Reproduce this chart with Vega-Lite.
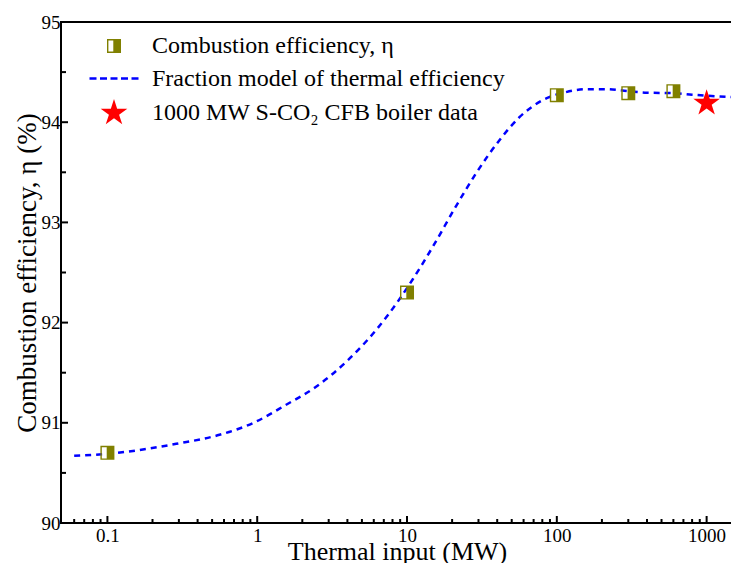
{
  "$schema": "https://vega.github.io/schema/vega-lite/v6.json",
  "width": 672,
  "height": 501,
  "autosize": {"type": "none"},
  "padding": {"left": 61, "top": 22, "right": 0, "bottom": 40},
  "background": "white",
  "config": {
    "view": {"stroke": "black", "strokeWidth": 2},
    "font": "Liberation Serif",
    "axis": {
      "grid": false,
      "domain": false,
      "ticks": false,
      "labelFont": "Liberation Serif",
      "titleFont": "Liberation Serif",
      "labelColor": "black",
      "titleColor": "black",
      "titleFontWeight": "normal",
      "labelFontSize": 19
    },
    "legend": {
      "orient": "none",
      "legendX": 41,
      "legendY": 12,
      "padding": 0,
      "labelFont": "Liberation Serif",
      "labelFontSize": 24,
      "labelColor": "black",
      "labelLimit": 0,
      "labelOffset": 26,
      "rowPadding": 8.5,
      "symbolSize": 196,
      "symbolStrokeWidth": 0,
      "symbolOpacity": 1
    }
  },
  "datasets": {
    "model": [
      {"mw": 0.06, "eff": 90.67},
      {"mw": 0.1, "eff": 90.69},
      {"mw": 0.133, "eff": 90.71},
      {"mw": 0.288, "eff": 90.79},
      {"mw": 0.56, "eff": 90.88},
      {"mw": 0.93, "eff": 90.995},
      {"mw": 1.56, "eff": 91.18},
      {"mw": 2.47, "eff": 91.36},
      {"mw": 4.0, "eff": 91.62},
      {"mw": 7.33, "eff": 92.06},
      {"mw": 10.9, "eff": 92.43},
      {"mw": 14.9, "eff": 92.76},
      {"mw": 21.2, "eff": 93.16},
      {"mw": 28.9, "eff": 93.49},
      {"mw": 41.4, "eff": 93.82},
      {"mw": 56.3, "eff": 94.05},
      {"mw": 80.5, "eff": 94.22},
      {"mw": 115, "eff": 94.30},
      {"mw": 160, "eff": 94.33},
      {"mw": 210, "eff": 94.33},
      {"mw": 300, "eff": 94.31},
      {"mw": 400, "eff": 94.295},
      {"mw": 600, "eff": 94.29},
      {"mw": 800, "eff": 94.275},
      {"mw": 1000, "eff": 94.265},
      {"mw": 1500, "eff": 94.25}
    ],
    "measured": [
      {"mw": 0.1, "eff": 90.70, "series": "Combustion efficiency, η"},
      {"mw": 10, "eff": 92.30, "series": "Combustion efficiency, η"},
      {"mw": 100, "eff": 94.27, "series": "Combustion efficiency, η"},
      {"mw": 300, "eff": 94.29, "series": "Combustion efficiency, η"},
      {"mw": 600, "eff": 94.31, "series": "Combustion efficiency, η"}
    ],
    "boiler": [
      {"mw": 1000, "eff": 94.19, "series": "1000 MW S-CO₂ CFB boiler data"}
    ],
    "xmajor": [{"mw": 0.1}, {"mw": 1}, {"mw": 10}, {"mw": 100}, {"mw": 1000}],
    "xminor": [
      {"mw": 0.06}, {"mw": 0.07}, {"mw": 0.08}, {"mw": 0.09},
      {"mw": 0.2}, {"mw": 0.3}, {"mw": 0.4}, {"mw": 0.5}, {"mw": 0.6}, {"mw": 0.7}, {"mw": 0.8}, {"mw": 0.9},
      {"mw": 2}, {"mw": 3}, {"mw": 4}, {"mw": 5}, {"mw": 6}, {"mw": 7}, {"mw": 8}, {"mw": 9},
      {"mw": 20}, {"mw": 30}, {"mw": 40}, {"mw": 50}, {"mw": 60}, {"mw": 70}, {"mw": 80}, {"mw": 90},
      {"mw": 200}, {"mw": 300}, {"mw": 400}, {"mw": 500}, {"mw": 600}, {"mw": 700}, {"mw": 800}, {"mw": 900}
    ],
    "ymajor": [{"eff": 91}, {"eff": 92}, {"eff": 93}, {"eff": 94}],
    "yminor": [{"eff": 90.5}, {"eff": 91.5}, {"eff": 92.5}, {"eff": 93.5}, {"eff": 94.5}]
  },
  "layer": [
    {
      "data": {"name": "model"},
      "mark": {"type": "line", "color": "#0000FF", "strokeWidth": 2.5, "strokeDash": [6, 5], "interpolate": "monotone"},
      "encoding": {
        "x": {
          "field": "mw", "type": "quantitative",
          "scale": {"type": "log", "domain": [0.049, 1500], "nice": false},
          "axis": {
            "values": [0.1, 1, 10, 100, 1000],
            "labelExpr": "datum.value < 1 ? '0.1' : format(datum.value, 'd')",
            "labelPadding": 3,
            "title": "Thermal input (MW)",
            "titleFontSize": 26,
            "titlePadding": -7,
            "orient": "bottom"
          }
        },
        "y": {
          "field": "eff", "type": "quantitative",
          "scale": {"domain": [90, 95], "nice": false, "zero": false},
          "axis": {
            "values": [90, 91, 92, 93, 94, 95],
            "format": "d",
            "labelPadding": 1,
            "title": "Combustion efficiency, η (%)",
            "titleFontSize": 27,
            "titlePadding": 0,
            "orient": "left"
          }
        }
      }
    },
    {
      "data": {"name": "xmajor"},
      "mark": {"type": "tick", "orient": "vertical", "color": "black", "size": 7, "thickness": 2, "yOffset": -3.5, "opacity": 1},
      "encoding": {
        "x": {"field": "mw", "type": "quantitative"},
        "y": {"datum": 90, "type": "quantitative"}
      }
    },
    {
      "data": {"name": "xminor"},
      "mark": {"type": "tick", "orient": "vertical", "color": "black", "size": 4, "thickness": 2, "yOffset": -2, "opacity": 1},
      "encoding": {
        "x": {"field": "mw", "type": "quantitative"},
        "y": {"datum": 90, "type": "quantitative"}
      }
    },
    {
      "data": {"name": "ymajor"},
      "mark": {"type": "tick", "orient": "horizontal", "color": "black", "size": 7, "thickness": 2, "xOffset": 3.5, "opacity": 1},
      "encoding": {
        "y": {"field": "eff", "type": "quantitative"},
        "x": {"datum": 0.049, "type": "quantitative"}
      }
    },
    {
      "data": {"name": "yminor"},
      "mark": {"type": "tick", "orient": "horizontal", "color": "black", "size": 5, "thickness": 2, "xOffset": 2.5, "opacity": 1},
      "encoding": {
        "y": {"field": "eff", "type": "quantitative"},
        "x": {"datum": 0.049, "type": "quantitative"}
      }
    },
    {
      "data": {"name": "measured"},
      "mark": {"type": "point", "filled": true, "size": 196, "opacity": 1},
      "encoding": {
        "x": {"field": "mw", "type": "quantitative"},
        "y": {"field": "eff", "type": "quantitative"},
        "color": {
          "field": "series", "type": "nominal",
          "scale": {
            "domain": ["Combustion efficiency, η", "Fraction model of thermal efficiency", "1000 MW S-CO₂ CFB boiler data"],
            "range": ["#808000", "#0000FF", "#FF0000"]
          },
          "legend": {"title": null}
        },
        "shape": {
          "field": "series", "type": "nominal",
          "scale": {
            "domain": ["Combustion efficiency, η", "Fraction model of thermal efficiency", "1000 MW S-CO₂ CFB boiler data"],
            "range": [
              "M-1,-1L1,-1L1,1L-1,1Z M-0.8,-0.8L-0.8,0.8L-0.1,0.8L-0.1,-0.8Z",
              "M-3.5,-0.18L-2.5,-0.18L-2.5,0.18L-3.5,0.18Z M-2,-0.18L-1,-0.18L-1,0.18L-2,0.18Z M-0.5,-0.18L0.5,-0.18L0.5,0.18L-0.5,0.18Z M1,-0.18L2,-0.18L2,0.18L1,0.18Z M2.5,-0.18L3.5,-0.18L3.5,0.18L2.5,0.18Z",
              "M0,-2L0.449,-0.618L1.902,-0.618L0.726,0.236L1.176,1.618L0,0.764L-1.176,1.618L-0.726,0.236L-1.902,-0.618L-0.449,-0.618Z"
            ]
          },
          "legend": {"title": null}
        }
      }
    },
    {
      "data": {"name": "boiler"},
      "mark": {"type": "point", "filled": true, "size": 196, "opacity": 1},
      "encoding": {
        "x": {"field": "mw", "type": "quantitative"},
        "y": {"field": "eff", "type": "quantitative"},
        "color": {"field": "series", "type": "nominal", "legend": {"title": null}},
        "shape": {"field": "series", "type": "nominal", "legend": {"title": null}}
      }
    }
  ]
}
